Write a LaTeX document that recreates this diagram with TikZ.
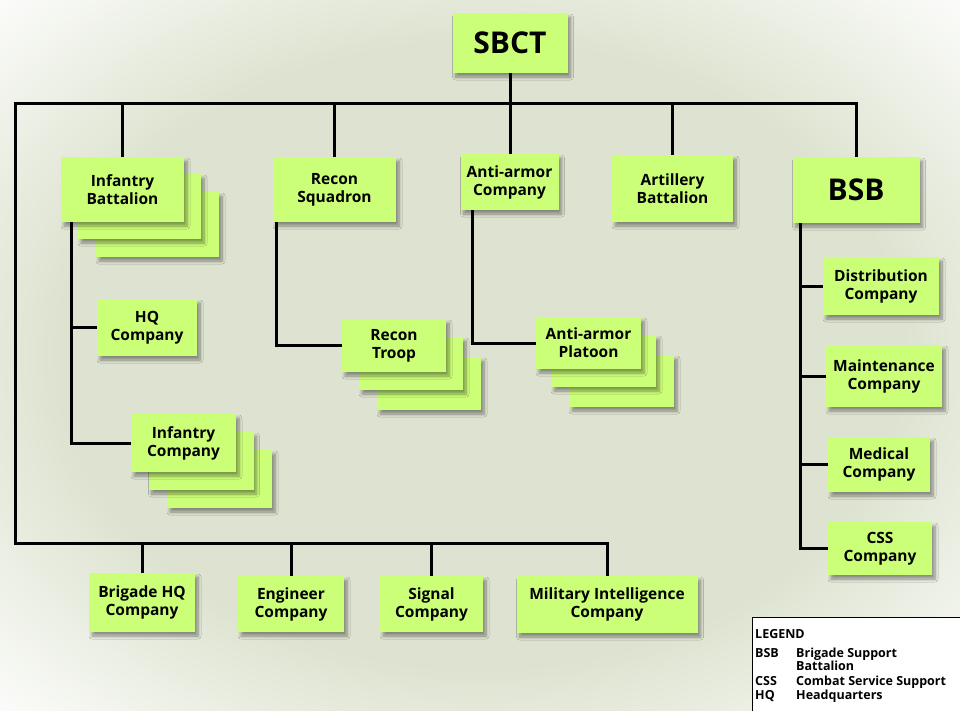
\documentclass[tikz,border=0pt]{standalone}
\usepackage{fontspec}
\setmainfont{Open Sans}
\usetikzlibrary{shadows.blur}
\definecolor{boxc}{RGB}{204,255,120}
\definecolor{bgc}{RGB}{221,227,208}
\pgfdeclareradialshading{bgshade}{\pgfpoint{0bp}{0bp}}{color(0bp)=(bgc); color(22bp)=(bgc); color(37bp)=(white); color(50bp)=(white)}
\tikzset{
  orgbox/.style={fill=boxc, inner sep=0pt, align=center,
    font=\bfseries\fontsize{15.5}{18}\selectfont,
    blur shadow={shadow xshift=3pt, shadow yshift=-4pt, shadow opacity=40, shadow blur steps=8, shadow blur radius=3pt}},
  bigbox/.style={orgbox, font=\bfseries\fontsize{30}{34}\selectfont},
  link/.style={draw=black, line width=3pt},
  legtxt/.style={anchor=base west, inner sep=0pt, font=\bfseries\fontsize{12.5}{14}\selectfont}
}
\begin{document}
\begin{tikzpicture}[x=1pt, y=-1pt]
\useasboundingbox (0,0) rectangle (960,710);
\shade[shading=bgshade] (0,0) rectangle (960,710);

% top
\node[bigbox, minimum width=115pt, minimum height=60pt] (sbct) at (510,43) {SBCT};

% infantry battalion stack
\node[orgbox, minimum width=123pt, minimum height=65pt] (ib3) at (157.5,224.5) {};
\node[orgbox, minimum width=123pt, minimum height=65pt] (ib2) at (139.5,206.5) {};
\node[orgbox, minimum width=123pt, minimum height=65pt] (ib) at (122.5,189.5) {Infantry\\Battalion};

\node[orgbox, minimum width=123pt, minimum height=65pt] (rs) at (334.5,189.5) {Recon\\Squadron};
\node[orgbox, minimum width=98pt, minimum height=56pt] (aac) at (509.5,182) {Anti-armor\\Company};
\node[orgbox, minimum width=121pt, minimum height=67pt] (art) at (672.5,188.5) {Artillery\\Battalion};
\node[bigbox, minimum width=127pt, minimum height=66pt] (bsb) at (856,190) {BSB};

% infantry subtree
\node[orgbox, minimum width=100pt, minimum height=57pt] (hq) at (147,327.5) {HQ\\Company};
\node[orgbox, minimum width=105pt, minimum height=58pt] (ic3) at (219.5,479) {};
\node[orgbox, minimum width=105pt, minimum height=58pt] (ic2) at (201,461) {};
\node[orgbox, minimum width=105pt, minimum height=58pt] (ic) at (183.5,443) {Infantry\\Company};

% recon troop
\node[orgbox, minimum width=104pt, minimum height=53pt] (rt3) at (429,383.5) {};
\node[orgbox, minimum width=104pt, minimum height=53pt] (rt2) at (411,363.5) {};
\node[orgbox, minimum width=104pt, minimum height=53pt] (rt) at (394,345.5) {Recon\\Troop};

% anti-armor platoon
\node[orgbox, minimum width=105pt, minimum height=52pt] (ap3) at (621.5,381) {};
\node[orgbox, minimum width=105pt, minimum height=52pt] (ap2) at (603.5,361) {};
\node[orgbox, minimum width=105pt, minimum height=52pt] (ap) at (588.5,343) {Anti-armor\\Platoon};

% BSB subtree
\node[orgbox, minimum width=116pt, minimum height=58pt] (dist) at (881,286) {Distribution\\Company};
\node[orgbox, minimum width=116pt, minimum height=62pt] (mnt) at (884,376) {Maintenance\\Company};
\node[orgbox, minimum width=102pt, minimum height=55pt] (med) at (879,464.5) {Medical\\Company};
\node[orgbox, minimum width=104pt, minimum height=53pt] (css) at (880,548.5) {CSS\\Company};

% bottom row
\node[orgbox, minimum width=106pt, minimum height=59pt] (bhq) at (142,602.5) {Brigade HQ\\Company};
\node[orgbox, minimum width=106pt, minimum height=56pt] (eng) at (291,604) {Engineer\\Company};
\node[orgbox, minimum width=103pt, minimum height=56pt] (sig) at (431.5,604) {Signal\\Company};
\node[orgbox, minimum width=181pt, minimum height=57pt] (mi) at (607,604.5) {Military Intelligence\\Company};

\coordinate (tl) at (15,103);
\coordinate (bl) at (15,543);

\draw[link] (bsb.north) |- (tl) -- (bl) -| (mi.north);
\draw[link] (sbct.south) -- (sbct.south |- aac.north);
\draw[link] (ib.north) -- (ib.north |- tl);
\draw[link] (rs.north) -- (rs.north |- tl);
\draw[link] (art.north) -- (art.north |- tl);
\draw[link] (bhq.north) -- (bhq.north |- bl);
\draw[link] (eng.north) -- (eng.north |- bl);
\draw[link] (sig.north) -- (sig.north |- bl);
\draw[link] ([xshift=11pt]ib.south west) |- (hq.west);
\draw[link] ([xshift=11pt]ib.south west) |- (ic.west);
\draw[link] ([xshift=4pt]rs.south west) |- (rt.west);
\draw[link] ([xshift=12pt]aac.south west) |- (ap.west);
\draw[link] ([xshift=8pt]bsb.south west) |- (dist.west);
\draw[link] ([xshift=8pt]bsb.south west) |- (mnt.west);
\draw[link] ([xshift=8pt]bsb.south west) |- (med.west);
\draw[link] ([xshift=8pt]bsb.south west) |- (css.west);

% legend
\draw[line width=1pt, fill=white] (752,617) rectangle (975,725);
\node[legtxt] (lg) at (755,638) {LEGEND};
\node[legtxt] (a1) at (755,657) {BSB};
\node[legtxt] (d1) at (796,657) {Brigade Support};
\node[legtxt] (d1b) at (796,670) {Battalion};
\node[legtxt] (a2) at (755,685) {CSS};
\node[legtxt] (d2) at (796,685) {Combat Service Support};
\node[legtxt] (a3) at (755,699) {HQ};
\node[legtxt] (d3) at (796,699) {Headquarters};
\end{tikzpicture}
\end{document}
